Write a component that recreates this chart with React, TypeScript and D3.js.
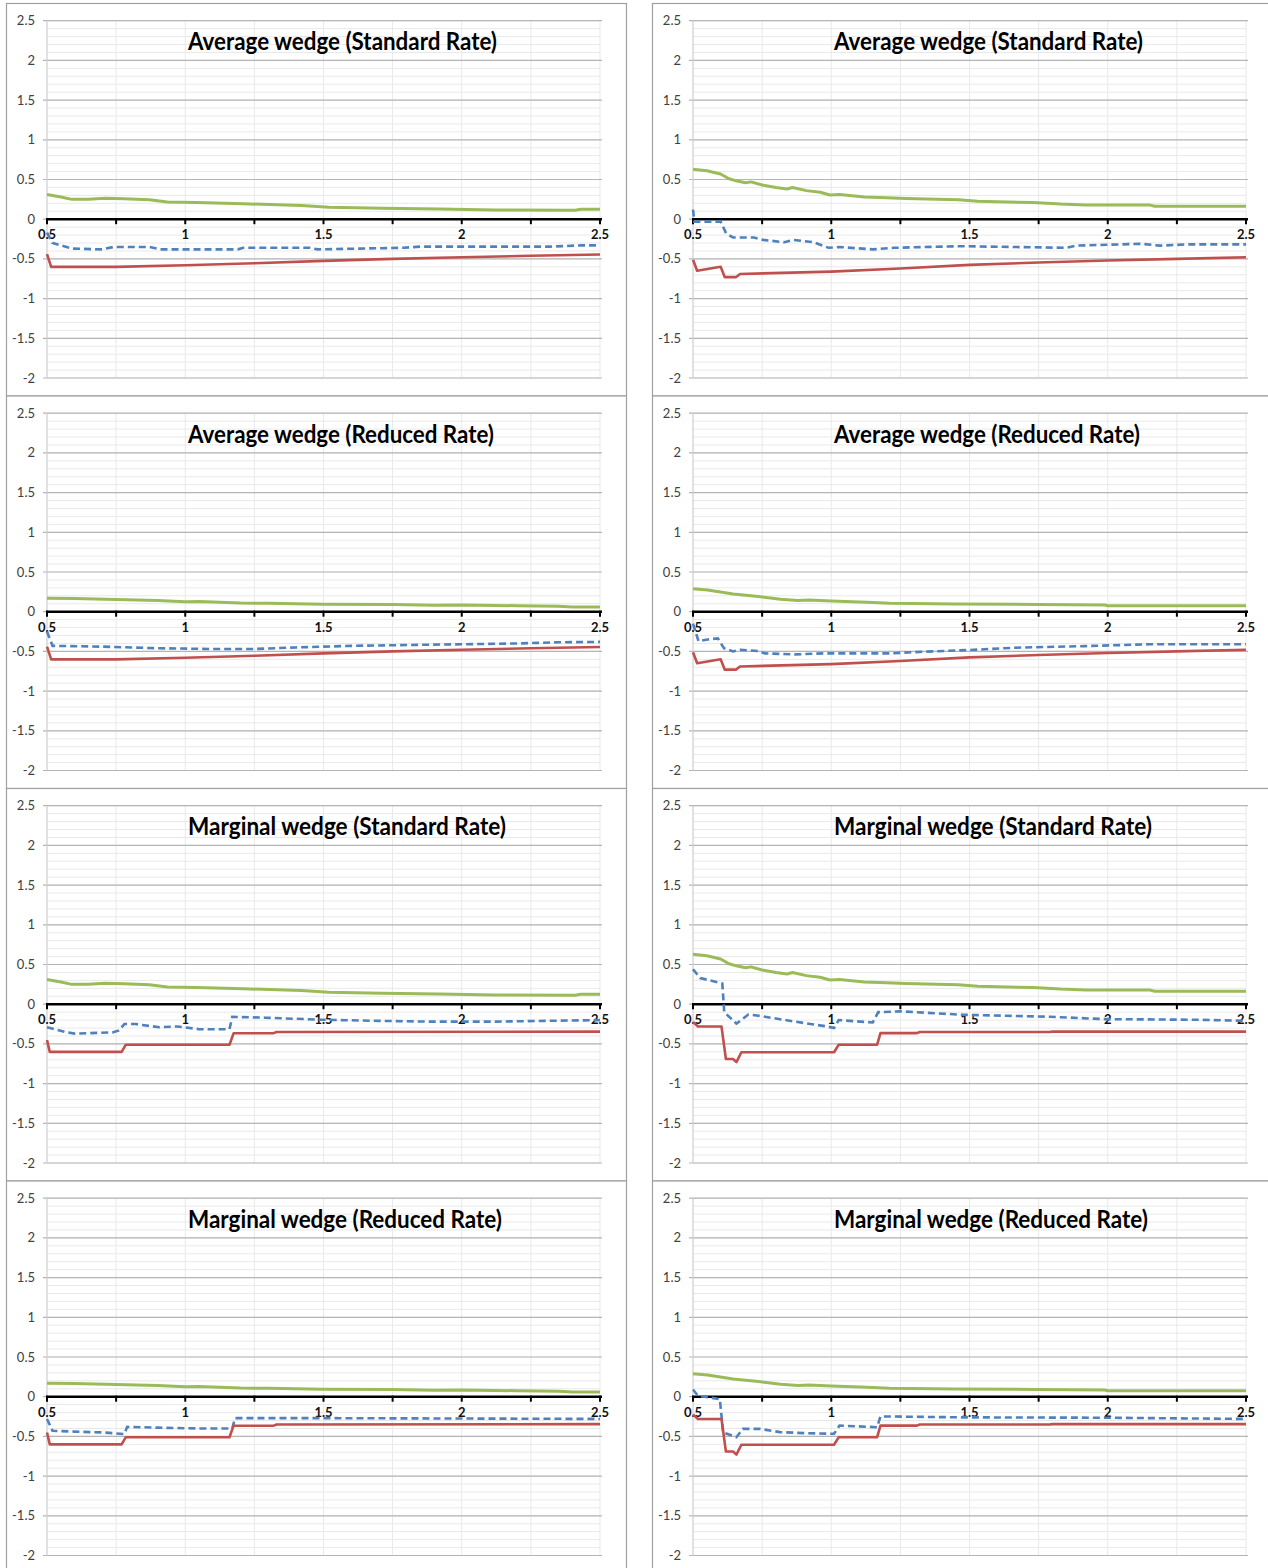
import React from "react";
import * as d3 from "d3";

type Pt = [number, number];

// tick values
const xTicks = [0.5, 0.75, 1, 1.25, 1.5, 1.75, 2, 2.25, 2.5];
const xLabels = [0.5, 1, 1.5, 2, 2.5];
const yTicks = [-2, -1.5, -1, -0.5, 0, 0.5, 1, 1.5, 2, 2.5];
const yMinor = d3.range(-20, 26).map((i) => i / 10);

const titles = [
  "Average wedge (Standard Rate)",
  "Average wedge (Reduced Rate)",
  "Marginal wedge (Standard Rate)",
  "Marginal wedge (Reduced Rate)",
];
// rendered width of each title in the reference (narrow bold face)
const titleWidths = [309, 306, 318, 314];

// green series
const greenStdLeft: Pt[] = [
  [0.5, 0.31], [0.55, 0.28], [0.59, 0.25], [0.65, 0.252], [0.71, 0.264], [0.78, 0.258],
  [0.87, 0.245], [0.935, 0.218], [1.04, 0.21], [1.21, 0.194], [1.42, 0.172], [1.52, 0.152],
  [1.71, 0.138], [1.92, 0.129], [2.12, 0.116], [2.41, 0.112], [2.43, 0.125], [2.5, 0.125],
];
const greenStdRight: Pt[] = [
  [0.5, 0.63], [0.55, 0.61], [0.6, 0.57], [0.63, 0.51], [0.66, 0.48], [0.69, 0.46],
  [0.71, 0.47], [0.75, 0.43], [0.8, 0.4], [0.84, 0.38], [0.86, 0.4], [0.91, 0.36],
  [0.96, 0.34], [0.995, 0.305], [1.03, 0.31], [1.12, 0.28], [1.2, 0.27], [1.27, 0.26],
  [1.46, 0.245], [1.53, 0.225], [1.73, 0.21], [1.83, 0.19], [1.92, 0.18], [2.15, 0.18],
  [2.17, 0.163], [2.5, 0.163],
];
const greenRedLeft: Pt[] = [
  [0.5, 0.17], [0.6, 0.165], [0.75, 0.155], [0.9, 0.14], [1, 0.125], [1.05, 0.13],
  [1.2, 0.11], [1.3, 0.105], [1.5, 0.095], [1.75, 0.09], [1.9, 0.08], [2, 0.085],
  [2.2, 0.075], [2.35, 0.07], [2.4, 0.06], [2.5, 0.06],
];
const greenRedRight: Pt[] = [
  [0.5, 0.29], [0.553, 0.273], [0.645, 0.223], [0.737, 0.19], [0.817, 0.158], [0.88, 0.14],
  [0.92, 0.147], [1, 0.134], [1.13, 0.118], [1.21, 0.105], [1.45, 0.097], [1.75, 0.092],
  [1.99, 0.084], [2.0, 0.076], [2.5, 0.076],
];

// blue (dashed) series
const blueAvgStdLeft: Pt[] = [
  [0.5, -0.17], [0.52, -0.3], [0.59, -0.37], [0.7, -0.38], [0.74, -0.35], [0.87, -0.35],
  [0.91, -0.38], [1.19, -0.38], [1.21, -0.36], [1.45, -0.36], [1.48, -0.38], [1.63, -0.37],
  [1.79, -0.36], [1.85, -0.345], [2.32, -0.345], [2.43, -0.33], [2.5, -0.33],
];
const blueAvgStdRight: Pt[] = [
  [0.5, 0.12], [0.505, -0.03], [0.6, -0.03], [0.62, -0.18], [0.645, -0.23], [0.72, -0.23],
  [0.754, -0.26], [0.83, -0.29], [0.863, -0.26], [0.936, -0.29], [0.99, -0.36], [1.03, -0.35],
  [1.15, -0.38], [1.23, -0.36], [1.4, -0.345], [1.47, -0.34], [1.85, -0.36], [1.885, -0.333],
  [2.12, -0.31], [2.19, -0.333], [2.29, -0.317], [2.5, -0.317],
];
const blueAvgRedLeft: Pt[] = [
  [0.5, -0.25], [0.52, -0.43], [0.7, -0.44], [0.9, -0.46], [1.1, -0.47], [1.25, -0.47],
  [1.4, -0.45], [1.6, -0.43], [1.8, -0.42], [2, -0.41], [2.2, -0.4], [2.35, -0.385], [2.5, -0.38],
];
const blueAvgRedRight: Pt[] = [
  [0.5, -0.15], [0.52, -0.37], [0.553, -0.35], [0.59, -0.336], [0.612, -0.46], [0.645, -0.5],
  [0.67, -0.48], [0.737, -0.496], [0.76, -0.525], [0.87, -0.538], [0.975, -0.525], [1.21, -0.525],
  [1.33, -0.504], [1.5, -0.483], [1.66, -0.454], [1.92, -0.433], [2.15, -0.41], [2.5, -0.41],
];
const blueMargStdLeft: Pt[] = [
  [0.5, -0.29], [0.567, -0.35], [0.6, -0.37], [0.737, -0.355], [0.76, -0.33], [0.78, -0.25],
  [0.82, -0.25], [0.906, -0.29], [0.97, -0.28], [1.05, -0.315], [1.16, -0.315], [1.17, -0.16],
  [1.29, -0.17], [1.49, -0.195], [1.7, -0.21], [1.9, -0.22], [2.1, -0.22], [2.3, -0.21], [2.5, -0.2],
];
const blueMargStdRight: Pt[] = [
  [0.5, 0.44], [0.526, 0.33], [0.606, 0.26], [0.613, -0.1], [0.657, -0.245], [0.7, -0.13],
  [0.737, -0.145], [0.87, -0.22], [0.984, -0.28], [1.01, -0.3], [1.027, -0.2], [1.15, -0.23],
  [1.17, -0.1], [1.25, -0.09], [1.476, -0.133], [1.79, -0.158], [1.99, -0.188], [2.32, -0.196],
  [2.5, -0.21],
];
const blueMargRedLeft: Pt[] = [
  [0.5, -0.28], [0.52, -0.43], [0.6, -0.44], [0.7, -0.45], [0.78, -0.47], [0.79, -0.38],
  [0.9, -0.39], [1.05, -0.4], [1.17, -0.4], [1.18, -0.27], [1.5, -0.27], [2, -0.275], [2.5, -0.28],
];
const blueMargRedRight: Pt[] = [
  [0.5, 0.09], [0.518, 0.01], [0.597, -0.03], [0.609, -0.45], [0.657, -0.51], [0.68, -0.405],
  [0.742, -0.405], [0.815, -0.446], [0.91, -0.46], [1.01, -0.467], [1.03, -0.364], [1.166, -0.384],
  [1.178, -0.248], [1.47, -0.26], [2, -0.265], [2.5, -0.28],
];

// red series
const redAvgLeft: Pt[] = [
  [0.5, -0.44], [0.515, -0.6], [0.75, -0.6], [1, -0.58], [1.25, -0.555], [1.5, -0.525],
  [1.75, -0.5], [2, -0.48], [2.25, -0.46], [2.5, -0.445],
];
const redAvgRight: Pt[] = [
  [0.5, -0.51], [0.515, -0.65], [0.6, -0.6], [0.615, -0.73], [0.655, -0.73], [0.67, -0.69],
  [1, -0.66], [1.25, -0.62], [1.5, -0.575], [1.75, -0.545], [2, -0.52], [2.25, -0.5], [2.5, -0.48],
];
const redMargLeft: Pt[] = [
  [0.5, -0.45], [0.51, -0.6], [0.77, -0.6], [0.785, -0.51], [1.16, -0.51], [1.175, -0.365],
  [1.32, -0.365], [1.33, -0.35], [2.5, -0.345],
];
const redMargRight: Pt[] = [
  [0.5, -0.225], [0.518, -0.28], [0.603, -0.28], [0.619, -0.69], [0.645, -0.69], [0.657, -0.73],
  [0.675, -0.605], [1.01, -0.605], [1.027, -0.51], [1.166, -0.51], [1.178, -0.364], [1.31, -0.364],
  [1.32, -0.35], [1.79, -0.35], [1.8, -0.345], [2.5, -0.345],
];

const panels = [
  { t: 0, green: greenStdLeft, blue: blueAvgStdLeft, red: redAvgLeft },
  { t: 0, green: greenStdRight, blue: blueAvgStdRight, red: redAvgRight },
  { t: 1, green: greenRedLeft, blue: blueAvgRedLeft, red: redAvgLeft },
  { t: 1, green: greenRedRight, blue: blueAvgRedRight, red: redAvgRight },
  { t: 2, green: greenStdLeft, blue: blueMargStdLeft, red: redMargLeft },
  { t: 2, green: greenStdRight, blue: blueMargStdRight, red: redMargRight },
  { t: 3, green: greenRedLeft, blue: blueMargRedLeft, red: redMargLeft },
  { t: 3, green: greenRedRight, blue: blueMargRedRight, red: redMargRight },
];

const COL_DX = 646;
const ROW_DY = 392.5;
const FONT = "Lato, 'Open Sans', sans-serif";

const Panel = ({ p, dx, dy }) => {
  const x = d3.scaleLinear().domain([0.5, 2.5]).range([47, 600]);
  const y = d3.scaleLinear().domain([-2, 2.5]).range([378, 20.7]);
  const line = d3
    .line<Pt>()
    .x((d) => x(d[0]))
    .y((d) => y(d[1]));
  const y0 = y(0);

  return (
    <g transform={`translate(${dx} ${dy})`}>
      <rect x={6.5} y={3.5} width={620} height={ROW_DY} fill="#fff" stroke="#a0a0a0" strokeWidth={1.2} />
      {/* minor grid */}
      {yMinor.map((v) => (
        <line key={"m" + v} x1={x(0.5)} x2={x(2.5)} y1={y(v)} y2={y(v)} stroke="#e9e9e9" strokeWidth={1} />
      ))}
      {xTicks.map((v) => (
        <line key={"v" + v} x1={x(v)} x2={x(v)} y1={y(2.5)} y2={y(-2)} stroke="#e9e9e9" strokeWidth={1} />
      ))}
      {/* major grid */}
      {yTicks.map((v) => (
        <line key={"g" + v} x1={x(0.5) - 4} x2={x(2.5) + 2} y1={y(v)} y2={y(v)} stroke="#b5b5b5" strokeWidth={1.2} />
      ))}
      <line x1={x(0.5)} x2={x(0.5)} y1={y(2.5)} y2={y(-2)} stroke="#cfcfcf" strokeWidth={1} />
      {yTicks.map((v) => (
        <text key={"yl" + v} x={35} y={y(v)} dy="0.35em" textAnchor="end" fontSize={13} fill="#404040" fontFamily={FONT}>
          {v}
        </text>
      ))}
      {/* x axis at zero */}
      <line x1={x(0.5) - 1} x2={x(2.5) + 2} y1={y0} y2={y0} stroke="#000" strokeWidth={2.6} />
      {xTicks.map((v) => (
        <line key={"t" + v} x1={x(v)} x2={x(v)} y1={y0 - 1} y2={y0 + 5} stroke="#000" strokeWidth={2} />
      ))}
      {xLabels.map((v) => (
        <text key={"xl" + v} x={x(v)} y={y0 + 20} textAnchor="middle" fontSize={13} fontWeight={700} fill="#111" fontFamily={FONT}>
          {v}
        </text>
      ))}
      <text
        x={188}
        y={50}
        fontSize={25}
        fontWeight={700}
        fill="#000"
        fontFamily={FONT}
        textLength={titleWidths[p.t]}
        lengthAdjust="spacingAndGlyphs"
      >
        {titles[p.t]}
      </text>
      <path d={line(p.green)} fill="none" stroke="#9bbb59" strokeWidth={3} strokeLinejoin="round" />
      <path d={line(p.blue)} fill="none" stroke="#4f81bd" strokeWidth={2.6} strokeDasharray="7,4" />
      <path d={line(p.red)} fill="none" stroke="#c0504d" strokeWidth={2.6} strokeLinejoin="round" />
    </g>
  );
};

export default function App() {
  return (
    <svg
      width={1268}
      height={1568}
      style={{ position: "absolute", left: 0, top: 0, background: "#fff" }}
    >
      <rect width={1268} height={1568} fill="#fff" />
      {panels.map((p, i) => (
        <Panel key={i} p={p} dx={(i % 2) * COL_DX} dy={Math.floor(i / 2) * ROW_DY} />
      ))}
    </svg>
  );
}
